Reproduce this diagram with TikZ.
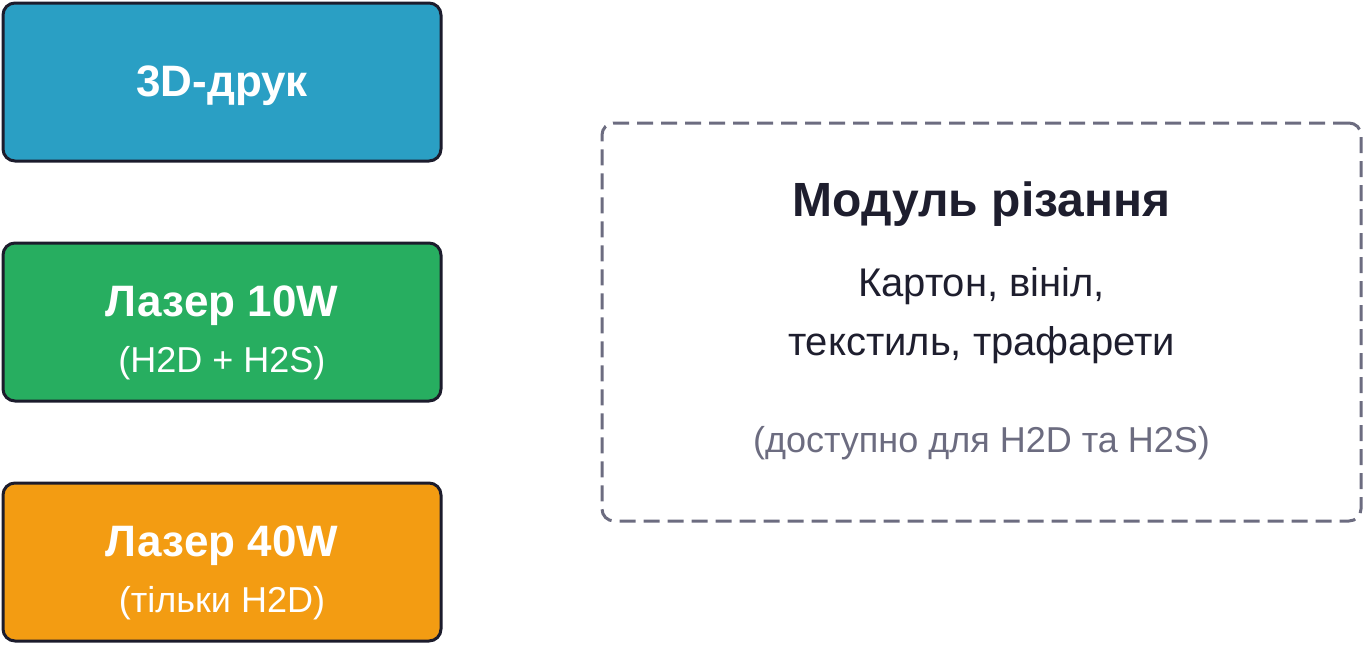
\documentclass[tikz,border=0pt]{standalone}
\usepackage{fontspec}
\setmainfont{Liberation Sans}
\definecolor{printblue}{HTML}{2A9FC4}
\definecolor{laser10}{HTML}{27AE60}
\definecolor{laser40}{HTML}{F39C12}
\definecolor{edgedark}{HTML}{1C1C2C}
\definecolor{dashgrey}{HTML}{6C6C80}
\definecolor{titledark}{HTML}{1E1E2E}
\begin{document}
\begin{tikzpicture}[x=0.75pt,y=-0.75pt,
  box/.style={draw=edgedark,line width=2.25pt,rounded corners=9pt,minimum width=328.5pt,minimum height=118.5pt,inner sep=0pt},
  head/.style={anchor=base,text=white,font=\fontsize{33}{38}\selectfont\bfseries},
  sub/.style={anchor=base,text=white,font=\fontsize{27}{32}\selectfont}]
  \useasboundingbox (0,0) rectangle (1364,644);
  % left column
  \node[box,fill=printblue] (print) at (222,82) {};
  \node[box,fill=laser10] (lasersmall) at (222,322) {};
  \node[box,fill=laser40] (laserbig) at (222,562) {};
  \node[head] (printtxt) at (222,96) {3D-друк};
  \node[head] (smalltxt) at (222,316) {Лазер 10W};
  \node[sub] (smallsub) at (222,372) {(H2D + H2S)};
  \node[head] (bigtxt) at (222,556) {Лазер 40W};
  \node[sub] (bigsub) at (222,612) {(тільки H2D)};
  % cutting module
  \node[draw=dashgrey,line width=2.25pt,dash pattern=on 12pt off 6pt,rounded corners=9pt,
    minimum width=569.25pt,minimum height=298.5pt,inner sep=0pt] (cutmod) at (981.5,322) {};
  \node[anchor=base,text=titledark,font=\fontsize{36}{42}\selectfont\bfseries] (cuttitle) at (981.5,216) {Модуль різання};
  \node[anchor=base,text=titledark,font=\fontsize{30}{36}\selectfont] (cutline1) at (981.5,296) {Картон, вініл,};
  \node[anchor=base,text=titledark,font=\fontsize{30}{36}\selectfont] (cutline2) at (981.5,355) {текстиль, трафарети};
  \node[anchor=base,text=dashgrey,font=\fontsize{27}{32}\selectfont] (cutnote) at (981.5,452) {(доступно для H2D та H2S)};
\end{tikzpicture}
\end{document}
